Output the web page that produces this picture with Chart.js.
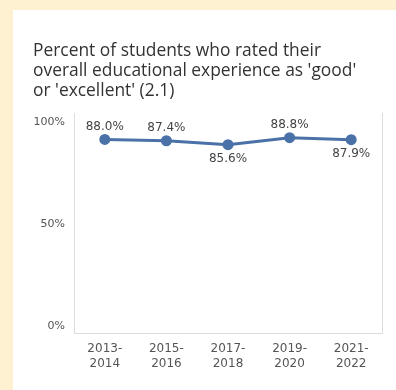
<!DOCTYPE html>
<html>
<head>
<meta charset="utf-8">
<script src="https://cdn.jsdelivr.net/npm/chart.js@4"></script>
<style>
  html, body { margin: 0; padding: 0; }
  body { width: 396px; height: 390px; background: #fdf1d2; position: relative; overflow: hidden; }
  #card { position: absolute; left: 13px; top: 10px; width: 383px; height: 380px; background: #ffffff; }
  #card canvas { display: block; }
</style>
</head>
<body>
<div id="card"><canvas id="chart" width="383" height="380"></canvas></div>
<script>
// School years surveyed
const years = [['2013-', '2014'], ['2015-', '2016'], ['2017-', '2018'], ['2019-', '2020'], ['2021-', '2022']];
// Share of students rating their experience 'good' or 'excellent' (%)
const ratedGood = [88.0, 87.4, 85.6, 88.8, 87.9];
// Y axis tick values (%)
const yTicks = [0, 50, 100];
// Which side of the point each value label sits on
const labelSide = ['above', 'above', 'below', 'above', 'below'];

const lineColor = '#4a72a8';
const frameColor = '#dddddd';

// Writes each point's value next to its marker
const valueLabels = {
  id: 'valueLabels',
  afterDatasetsDraw(chart) {
    const ctx = chart.ctx;
    const meta = chart.getDatasetMeta(0);
    ctx.save();
    ctx.font = '12px "DejaVu Sans"';
    ctx.fillStyle = '#444444';
    ctx.textAlign = 'center';
    ctx.textBaseline = 'middle';
    meta.data.forEach((pt, i) => {
      const v = chart.data.datasets[0].data[i];
      const dy = labelSide[i] === 'above' ? -13 : 14;
      ctx.fillText(v.toFixed(1) + '%', pt.x, pt.y + dy);
    });
    ctx.restore();
  }
};

new Chart(document.getElementById('chart'), {
  type: 'line',
  data: {
    labels: years,
    datasets: [{
      data: ratedGood,
      borderColor: lineColor,
      backgroundColor: lineColor,
      borderWidth: 3,
      pointRadius: 4,
      pointHoverRadius: 4,
      tension: 0,
      clip: false,
      yAxisID: 'y'
    }]
  },
  options: {
    responsive: false,
    animation: false,
    layout: { padding: { left: 20, right: 14, top: 31, bottom: 11 } },
    plugins: {
      legend: { display: false },
      tooltip: { enabled: false },
      title: {
        display: true,
        text: ['Percent of students who rated their', "overall educational experience as 'good'", "or 'excellent' (2.1)"],
        align: 'start',
        color: '#333333',
        font: { family: 'Open Sans', size: 17.4, weight: 'normal', lineHeight: 1.15 },
        padding: { top: 0, bottom: 12 }
      }
    },
    scales: {
      x: {
        offset: true,
        grid: { display: false, drawTicks: false, tickLength: 0 },
        border: { color: frameColor, width: 1 },
        ticks: { color: '#555555', font: { family: 'DejaVu Sans', size: 12, lineHeight: 1.25 }, padding: 8, maxRotation: 0 }
      },
      // value axis: carries the line and the left frame edge
      y: {
        min: 0,
        max: 100,
        weight: 0,
        grid: { display: false, drawTicks: false, tickLength: 0 },
        border: { color: frameColor, width: 1 },
        ticks: { display: false }
      },
      // percent labels, set slightly inside the frame ends
      yLabels: {
        position: 'left',
        weight: 1,
        min: -3.4,
        max: 104.4,
        afterBuildTicks(scale) { scale.ticks = yTicks.map(v => ({ value: v })); },
        afterFit(scale) { scale.width = 41; },
        grid: { display: false, drawTicks: false, tickLength: 0 },
        border: { display: false },
        ticks: { color: '#555555', font: { family: 'DejaVu Sans', size: 11 }, padding: 9, callback: v => v + '%' }
      },
      yRight: {
        position: 'right',
        grid: { display: false, drawTicks: false, tickLength: 0 },
        border: { color: frameColor, width: 1 },
        ticks: { display: false }
      }
    }
  },
  plugins: [valueLabels]
});
</script>
</body>
</html>
